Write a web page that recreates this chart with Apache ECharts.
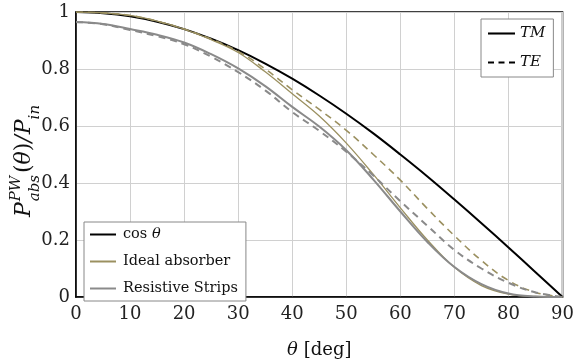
<!DOCTYPE html>
<html><head><meta charset="utf-8">
<script src="https://cdn.jsdelivr.net/npm/echarts@6/dist/echarts.min.js"></script>
<style>html,body{margin:0;padding:0;background:#fff}#c{width:577px;height:364px}</style>
</head><body><div id="c"></div>
<script>
// ---- data ----
const theta = [0,5,10,15,20,25,30,35,40,45,50,55,60,65,70,75,80,85,90];
const cosVals = [1,0.996,0.985,0.966,0.940,0.906,0.866,0.819,0.766,0.707,0.643,0.574,0.500,0.423,0.342,0.259,0.174,0.087,0];
const idealTM = [1,0.997,0.988,0.968,0.940,0.903,0.858,0.790,0.713,0.635,0.540,0.430,0.313,0.200,0.104,0.040,0.010,0.002,0];
const idealTE = [1,0.997,0.988,0.968,0.940,0.905,0.862,0.800,0.727,0.658,0.585,0.500,0.410,0.310,0.215,0.128,0.058,0.016,0];
const resTM   = [0.965,0.958,0.940,0.920,0.893,0.852,0.802,0.740,0.667,0.598,0.515,0.412,0.300,0.193,0.105,0.045,0.012,0.002,0];
const resTE   = [0.965,0.957,0.937,0.915,0.887,0.843,0.789,0.725,0.649,0.583,0.510,0.426,0.336,0.250,0.165,0.100,0.050,0.016,0];
const xTicks = [0,10,20,30,40,50,60,70,80,90];
const yTicks = [0,0.2,0.4,0.6,0.8,1];

const OLIVE = '#9b9060', GRAY = '#8a8a8a';
const SERIF = '"DejaVu Serif", serif';
const zip = v => theta.map((t,i)=>[t,v[i]]);

const chart = echarts.init(document.getElementById('c'), null, {renderer:'canvas'});

// y-axis label pieces laid out by measurement
const ctx = document.createElement('canvas').getContext('2d');
function w(text, font){ ctx.font = font; return ctx.measureText(text).width; }
const mainF = 'italic 22px ' + SERIF, normF = '22px ' + SERIF, scrF = 'italic 15px ' + SERIF;
const pieces = [];
let cx = 0;
function add(text, font, dy, va){ pieces.push({type:'text', x:cx, y:dy, style:{text, font, fill:'#111', align:'left', verticalAlign:va, textAlign:'left', textVerticalAlign:va}}); }
add('P', mainF, 0, 'bottom'); cx += w('P', mainF) + 1;
const sx = cx;
add('PW', scrF, -11, 'bottom');
add('abs', scrF, -7, 'top');
cx = sx + Math.max(w('PW', scrF), w('abs', scrF)) + 2;
add('(', normF, 0, 'bottom'); cx += w('(', normF);
add('θ', mainF, 0, 'bottom'); cx += w('θ', mainF);
add(')', normF, 0, 'bottom'); cx += w(')', normF);
add('/', mainF, 0, 'bottom'); cx += w('/', mainF) + 1;
add('P', mainF, 0, 'bottom'); cx += w('P', mainF);
add('in', scrF, -7, 'top'); cx += w('in', scrF);
const total = cx;
const centerY = 161;

const axisFont = {fontFamily: SERIF, fontSize: 18, color: '#222'};
const lineIcon = 'path://M0,0L26,0L26,2L0,2Z';
const dashIcon = 'path://M0,0h6v2h-6z M10.5,0h6v2h-6z M21,0h6v2h-6z';

chart.setOption({
  animation: false,
  backgroundColor: '#fff',
  grid: {left: 76, right: 13, top: 12, bottom: 64, show: true, borderColor: '#000', borderWidth: 1.5, backgroundColor: 'transparent'},
  xAxis: {
    type: 'value', min: 0, max: 90, interval: 10,
    axisLine: {show: true, lineStyle: {color: '#000', width: 1.5}},
    axisTick: {show: false},
    splitLine: {show: true, lineStyle: {color: '#d0d0d0', width: 1}},
    axisLabel: Object.assign({margin: 8, formatter: v => xTicks.includes(v) ? String(v) : ''}, axisFont),
    name: '{i|θ}{n| [deg]}', nameLocation: 'middle', nameGap: 44,
    nameTextStyle: {rich: {i: {fontFamily: SERIF, fontStyle: 'italic', fontSize: 18, color: '#111'}, n: {fontFamily: SERIF, fontSize: 18, color: '#111'}}}
  },
  yAxis: {
    type: 'value', min: 0, max: 1, interval: 0.2,
    axisLine: {show: true, lineStyle: {color: '#000', width: 1.5}},
    axisTick: {show: false},
    splitLine: {show: true, lineStyle: {color: '#d0d0d0', width: 1}},
    axisLabel: Object.assign({margin: 6, formatter: v => { const t = yTicks.find(y => Math.abs(y - v) < 1e-9); return t === undefined ? '' : String(t); }}, axisFont)
  },
  legend: [
    {
      left: 84, top: 222, orient: 'vertical',
      data: ['cos θ', 'Ideal absorber', 'Resistive Strips'],
      itemWidth: 26, itemHeight: 14, itemGap: 12,
      padding: [5, 8, 5, 6],
      backgroundColor: '#fff', borderColor: '#888', borderWidth: 1, borderRadius: 0,
      icon: lineIcon,
      formatter: n => n === 'cos θ' ? '{a|cos }{b|θ}' : n,
      textStyle: {fontFamily: SERIF, fontSize: 14.5, color: '#111', padding: [0,0,0,2],
        rich: {a: {fontFamily: SERIF, fontSize: 14.5, color: '#111'}, b: {fontFamily: SERIF, fontStyle: 'italic', fontSize: 14.5, color: '#111'}}},
      selectedMode: false
    },
    {
      left: 481, top: 19, orient: 'vertical',
      data: [{name: 'TM', icon: lineIcon}, {name: 'TE', icon: dashIcon}],
      itemWidth: 27, itemHeight: 14, itemGap: 14,
      padding: [7, 8, 7, 7],
      backgroundColor: '#fff', borderColor: '#888', borderWidth: 1, borderRadius: 0,
      textStyle: {fontFamily: SERIF, fontStyle: 'italic', fontSize: 15, color: '#111'},
      selectedMode: false
    }
  ],
  graphic: [{
    type: 'group', x: 35, y: centerY + total / 2, rotation: Math.PI / 2,
    children: pieces
  }],
  series: [
    {name: 'cos θ', type: 'line', data: zip(cosVals), showSymbol: false, symbol: 'none', smooth: 0.4, lineStyle: {color: '#000', width: 2}, itemStyle: {color: '#000'}, z: 2},
    {name: 'Ideal absorber', type: 'line', data: zip(idealTM), showSymbol: false, symbol: 'none', smooth: 0.4, lineStyle: {color: OLIVE, width: 1.3}, itemStyle: {color: OLIVE}, z: 3},
    {name: 'Ideal absorber', type: 'line', data: zip(idealTE), showSymbol: false, symbol: 'none', smooth: 0.4, lineStyle: {color: OLIVE, width: 1.6, type: [7, 5]}, itemStyle: {color: OLIVE}, z: 3},
    {name: 'Resistive Strips', type: 'line', data: zip(resTM), showSymbol: false, symbol: 'none', smooth: 0.4, lineStyle: {color: GRAY, width: 2}, itemStyle: {color: GRAY}, z: 4},
    {name: 'Resistive Strips', type: 'line', data: zip(resTE), showSymbol: false, symbol: 'none', smooth: 0.4, lineStyle: {color: GRAY, width: 2, type: [7, 5]}, itemStyle: {color: GRAY}, z: 4},
    {name: 'TM', type: 'line', data: [], symbol: 'none', lineStyle: {color: '#000', width: 2}, itemStyle: {color: '#000'}},
    {name: 'TE', type: 'line', data: [], symbol: 'none', lineStyle: {color: '#000', width: 2, type: [5, 3]}, itemStyle: {color: '#000'}}
  ]
});
</script></body></html>
